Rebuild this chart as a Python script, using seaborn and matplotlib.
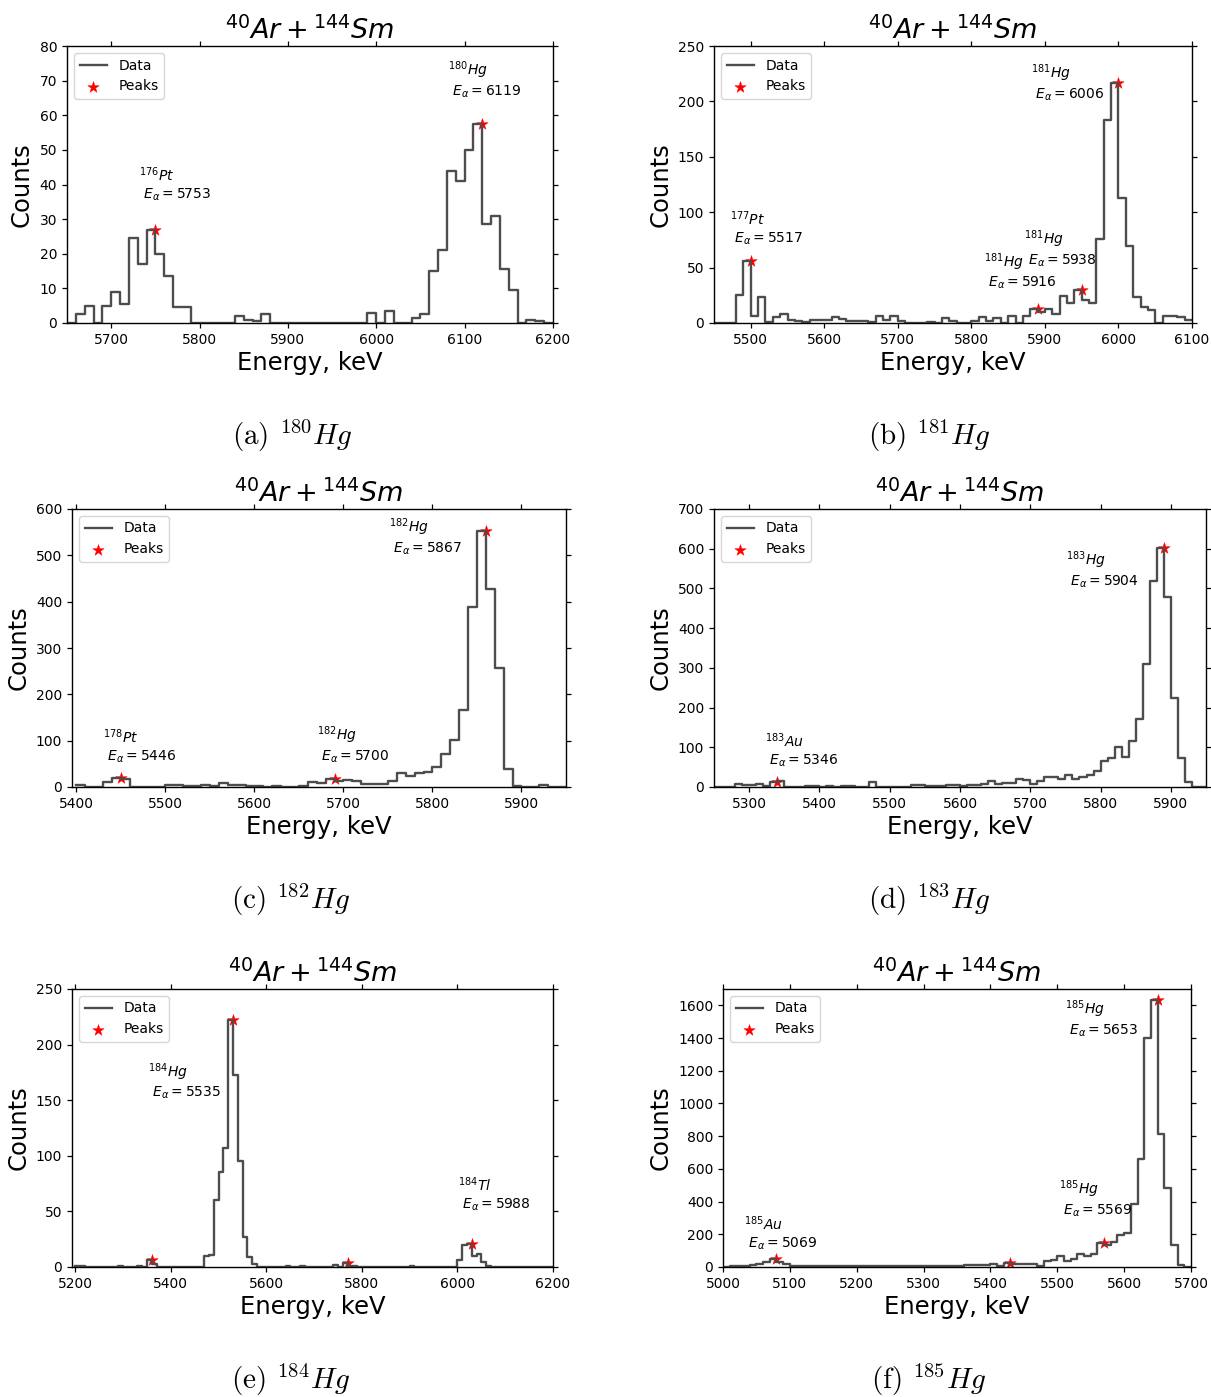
import matplotlib
matplotlib.use("Agg")
import matplotlib.pyplot as plt
from matplotlib.ticker import MultipleLocator
import numpy as np
import pandas as pd
import seaborn as sns

plt.rcParams.update({
    "font.family": ["DejaVu Sans"],
    "xtick.top": True,
    "ytick.right": True,
    "xtick.direction": "out",
    "ytick.direction": "out",
    "axes.linewidth": 1.0,
})

# ---------------- data (bin left edges start, bin width 10 keV) ----------------
BIN = 10

a_start = 5650
a_counts = [0, 2.5, 5, 0, 5, 9, 5.5, 24.5, 17, 27,
            20, 13.5, 4.5, 4.5, 0, 0, 0, 0, 0, 2,
            1, 0.5, 2.5, 0, 0, 0, 0, 0, 0, 0,
            0, 0, 0, 0, 3, 0, 3.5, 0, 0, 1.5,
            2.5, 15, 21, 44, 41, 50, 57.5, 28.5, 31, 15.5,
            9.5, 0, 1, 0.5, 0]
a_peaks = [5750, 6120]
a_labels = [(5731, 34.6, "176", "Pt", 5753), (6081, 64.4, "180", "Hg", 6119)]

b_start = 5450
b_counts = [0, 0, 0, 25.5, 56.4, 6, 23.7, 0.5, 5.4, 8,
            2.4, 2, 1, 3, 2.4, 2.4, 5, 3.6, 1.5, 2,
            1.5, 0.6, 6, 3, 6.6, 2, 0.3, 0, 0, 0.5,
            0.3, 4.5, 2, 0.3, 0, 2, 5.7, 2, 4.8, 0.3,
            6.6, 0.3, 6, 12.6, 10.2, 12.3, 7.8, 24, 18, 29.4,
            20.4, 18, 76, 183, 217, 113, 69.6, 23.4, 14, 11.4,
            0.3, 6, 6, 5, 3]
b_peaks = [5500, 5890, 5950, 6000]
b_labels = [(5472, 69, "177", "Pt", 5517), (5881, 198.7, "181", "Hg", 6006),
            (5872, 48.5, "181", "Hg", 5938), (5817, 28.5, "181", "Hg", 5916)]

c_start = 5400
c_counts = [4, 0, 1, 10, 19.5, 16.6, 0, 0, 0, 0,
            5, 3.6, 2, 3, 3.6, 2, 8, 3.6, 3.6, 2,
            2, 1, 1.4, 0.5, 0.5, 1.4, 10, 9.4, 17, 12.3,
            15, 12.3, 5.8, 5.8, 6.5, 12.3, 29.6, 23, 29.6, 33,
            44, 70.7, 101, 166, 389, 553, 427, 257, 38, 1.4,
            0, 1, 4.3, 0, 0]
c_peaks = [5450, 5690, 5860]
c_labels = [(5430, 47, "178", "Pt", 5446), (5670, 47, "182", "Hg", 5700),
            (5751, 497, "182", "Hg", 5867)]

d_start = 5250
d_counts = [0, 0, 0, 8.4, 4.2, 5, 7.6, 1.7, 13, 14,
            0, 0.8, 0.3, 1.7, 1.7, 0.8, 2.5, 0, 3.4, 1.7,
            0.8, 0, 11.8, 0, 0, 0, 0, 0, 5.9, 5,
            3.4, 1.7, 2.5, 4.2, 4.2, 1.7, 5, 5.9, 6.7, 14.3,
            7.6, 9.3, 9.3, 21, 16.8, 7.6, 14.3, 24.4, 25, 19.4,
            31, 20, 26, 31, 39.6, 64.8, 73, 101, 76.6, 115,
            170, 310, 519, 601, 479, 225, 74, 13.5, 0, 0]
d_peaks = [5340, 5890]
d_labels = [(5322, 46, "183", "Au", 5346), (5751, 497, "183", "Hg", 5904)]

e_start = 5200
e_counts = [1, 1, 0, 0, 0, 0, 0, 0, 0, 1,
            0, 0, 0, 1, 0, 6, 3, 0, 0, 0,
            0, 0, 0, 0, 0, 0, 0, 10.2, 11, 60,
            85, 107, 222.5, 173, 95.6, 27.4, 9, 2.7, 0, 0,
            0, 0, 0, 0, 1, 0, 0, 1, 0, 0,
            0, 0, 0, 0, 1.5, 0, 3.3, 1, 1, 0,
            0, 0, 0, 0, 0, 0, 0, 0, 0, 0,
            1, 0, 0, 0, 0, 0, 0, 0, 0, 0,
            6.6, 19.5, 20.5, 10, 11.4, 4.5, 1, 0, 0, 0,
            0, 0, 0, 0, 0, 0, 0, 0, 0, 0]
e_peaks = [5360, 5530, 5770, 6030]
e_labels = [(5352, 149, "184", "Hg", 5535), (6001, 49, "184", "Tl", 5988)]

f_start = 5000
f_counts = [0, 8, 4, 4, 10, 18, 28, 48, 33, 18,
            8, 8, 8, 4, 4, 4, 4, 4, 8, 8,
            4, 4, 4, 8, 8, 4, 4, 4, 4, 8,
            8, 4, 4, 8, 8, 8, 14, 12, 12, 12,
            16, 8, 24, 20, 16, 16, 16, 4, 35, 45,
            65, 39, 47, 78, 70, 78, 148, 133, 153, 194,
            208, 386, 658, 1403, 1632, 816, 483, 133, 14, 0]
f_peaks = [5080, 5430, 5570, 5650]
f_labels = [(5031, 92, "185", "Au", 5069), (5502, 296, "185", "Hg", 5569),
            (5512, 1395, "185", "Hg", 5653)]

captions = ["(a)", "(b)", "(c)", "(d)", "(e)", "(f)"]
caption_iso = ["180", "181", "182", "183", "184", "185"]

# ---------------- layout (pixels) ----------------
W, H = 1211, 1397
fig = plt.figure(figsize=(W / 100, H / 100), dpi=100)


def px_axes(l, t, r, b):
    return fig.add_axes([l / W, 1 - b / H, (r - l) / W, (b - t) / H])


panels = [
    dict(start=a_start, counts=a_counts, peaks=a_peaks, labels=a_labels,
         rect=(67, 46, 553, 323), xlim=(5650, 6200), ylim=(0, 80), xs=100, ys=10,
         cap=(292, 436)),
    dict(start=b_start, counts=b_counts, peaks=b_peaks, labels=b_labels,
         rect=(714, 46, 1192, 323), xlim=(5450, 6100), ylim=(0, 250), xs=100, ys=50,
         cap=(929, 436)),
    dict(start=c_start, counts=c_counts, peaks=c_peaks, labels=c_labels,
         rect=(72, 509, 566, 787), xlim=(5395, 5950), ylim=(0, 600), xs=100, ys=100,
         cap=(291, 900)),
    dict(start=d_start, counts=d_counts, peaks=d_peaks, labels=d_labels,
         rect=(714, 509, 1206, 787), xlim=(5250, 5950), ylim=(0, 700), xs=100, ys=100,
         cap=(929, 900)),
    dict(start=e_start, counts=e_counts, peaks=e_peaks, labels=e_labels,
         rect=(72, 989, 553, 1267), xlim=(5193, 6200), ylim=(0, 250), xs=200, ys=50,
         cap=(291, 1380)),
    dict(start=f_start, counts=f_counts, peaks=f_peaks, labels=f_labels,
         rect=(723, 989, 1191, 1267), xlim=(5000, 5700), ylim=(0, 1700), xs=100, ys=200,
         cap=(929, 1380)),
]

line_color = "#4d4d4d"

for i, p in enumerate(panels):
    ax = px_axes(*p["rect"])
    counts = list(p["counts"])
    edges = p["start"] + BIN * np.arange(len(counts) + 1)
    df = pd.DataFrame({"Energy": edges, "Counts": counts + [counts[-1]]})
    sns.lineplot(data=df, x="Energy", y="Counts", ax=ax, drawstyle="steps-post",
                 color=line_color, lw=1.7, label="Data", estimator=None)
    # peak stars sit at the right edge of the bin that holds the maximum
    pk_y = [counts[int((e - p["start"]) // BIN) - 1] for e in p["peaks"]]
    pk = pd.DataFrame({"Energy": p["peaks"], "Counts": pk_y})
    sns.scatterplot(data=pk, x="Energy", y="Counts", ax=ax, marker="*", color="red",
                    s=75, edgecolor="red", linewidth=0.3, label="Peaks", zorder=1.5)
    for (tx, ty, A, el, E) in p["labels"]:
        ax.text(tx, ty, f"$^{{{A}}}{el}$\n $E_\\alpha = {E}$", fontsize=10,
                ha="left", va="bottom")
    ax.set_xlim(*p["xlim"])
    ax.set_ylim(*p["ylim"])
    ax.xaxis.set_major_locator(MultipleLocator(p["xs"]))
    ax.yaxis.set_major_locator(MultipleLocator(p["ys"]))
    ax.tick_params(labelsize=10, length=3.5, width=0.9)
    ax.set_xlabel("Energy, keV", fontsize=17.5, labelpad=3)
    ax.set_ylabel("Counts", fontsize=17.5, labelpad=4)
    ax.set_title(r"$^{40}Ar + ^{144}Sm$", fontsize=19.5, pad=5)
    ax.legend(loc="upper left", fontsize=10)
    cx, cy = p["cap"]
    fig.text(cx / W, 1 - cy / H, f"{captions[i]} $^{{{caption_iso[i]}}}Hg$",
             fontsize=21, fontfamily="cmr10", math_fontfamily="cm",
             ha="center", va="center")

fig.savefig("out.png", dpi=100)
